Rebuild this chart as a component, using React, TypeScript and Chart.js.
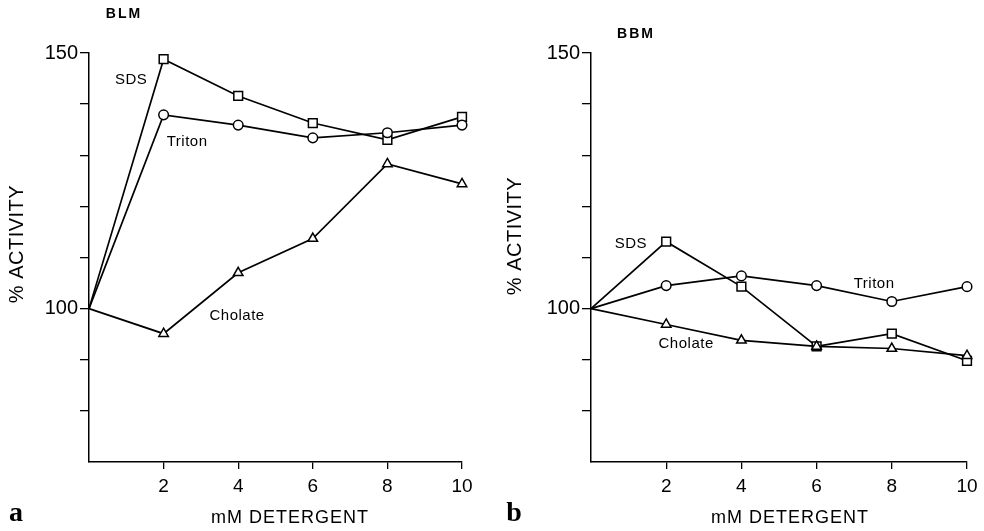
import React, { useEffect, useRef } from 'react';
import { Chart, registerables } from 'chart.js';

Chart.register(...registerables);

// ---- data ----
const xValues = [0, 2, 4, 6, 8, 10];
const blmSDS = [100, 148.8, 141.6, 136.3, 133.0, 137.5];
const blmTriton = [100, 137.9, 135.9, 133.4, 134.4, 135.9];
const blmCholate = [100, 95.1, 107.0, 113.7, 128.3, 124.4];
const bbmSDS = [100, 113.1, 104.3, 92.6, 95.1, 89.8];
const bbmTriton = [100, 104.5, 106.4, 104.5, 101.4, 104.3];
const bbmCholate = [100, 96.9, 93.8, 92.6, 92.2, 90.8];
const yLabeledTicks = [100, 150];
const yMin = 70;
const yMax = 150;
const xMin = 0;
const xMax = 10;

const FONT = '"Liberation Sans", Arial, Helvetica, sans-serif';

type Label = { text: string; x: number; y: number };
type PanelProps = {
  left: number;
  width: number;
  axisWidth: number;
  padRight: number;
  sds: number[];
  triton: number[];
  cholate: number[];
  seriesLabels: Label[];
  title: string;
  titlePos: [number, number];
  yTitlePos: [number, number];
  xTitlePos: [number, number];
  panelLetter: string;
  letterPos: [number, number];
};

const HEIGHT = 531;

function Panel(p: PanelProps) {
  const ref = useRef<HTMLCanvasElement>(null);
  useEffect(() => {
    if (!ref.current) return;
    const pts = (vals: number[]) => vals.map((v, i) => ({ x: xValues[i], y: v }));
    const radii = (r: number) => xValues.map((x) => (x === 0 ? 0 : r));
    const mk = (label: string, vals: number[], style: string, r: number) => ({
      label,
      data: pts(vals),
      borderColor: '#000',
      borderWidth: 1.7,
      backgroundColor: '#fff',
      pointStyle: style,
      pointRadius: radii(r),
      pointBorderWidth: 1.5,
      pointBorderColor: '#000',
      pointBackgroundColor: '#fff',
      tension: 0,
      fill: false,
      clip: false,
    });
    const textPlugin = {
      id: 'panelText',
      afterDraw(chart: any) {
        const ctx = chart.ctx as CanvasRenderingContext2D;
        const xs = chart.scales.x;
        const ys = chart.scales.y;
        ctx.save();
        ctx.fillStyle = '#000';
        ctx.textAlign = 'center';
        ctx.textBaseline = 'middle';
        ctx.font = `15px ${FONT}`;
        (ctx as any).letterSpacing = '0.5px';
        for (const l of p.seriesLabels) {
          ctx.fillText(l.text, xs.getPixelForValue(l.x), ys.getPixelForValue(l.y));
        }
        ctx.font = `bold 14px ${FONT}`;
        (ctx as any).letterSpacing = '2px';
        ctx.fillText(p.title, p.titlePos[0], p.titlePos[1]);
        ctx.font = `18px ${FONT}`;
        (ctx as any).letterSpacing = '1px';
        ctx.fillText('mM DETERGENT', p.xTitlePos[0], p.xTitlePos[1]);
        ctx.save();
        ctx.translate(p.yTitlePos[0], p.yTitlePos[1]);
        ctx.rotate(-Math.PI / 2);
        ctx.font = `20px ${FONT}`;
        (ctx as any).letterSpacing = '0.5px';
        ctx.fillText('% ACTIVITY', 0, 0);
        ctx.restore();
        (ctx as any).letterSpacing = '0px';
        ctx.font = `bold 28px "Liberation Serif", "Times New Roman", serif`;
        ctx.fillText(p.panelLetter, p.letterPos[0], p.letterPos[1]);
        ctx.restore();
      },
    };
    const chart = new Chart(ref.current, {
      type: 'line',
      data: {
        datasets: [
          mk('Cholate', p.cholate, 'triangle', 5.5),
          mk('Triton', p.triton, 'circle', 4.8),
          mk('SDS', p.sds, 'rect', 6.2),
        ] as any,
      },
      options: {
        animation: false,
        responsive: false,
        maintainAspectRatio: false,
        layout: { padding: { top: 53, right: p.padRight, left: 0, bottom: 0 } },
        plugins: {
          legend: { display: false },
          tooltip: { enabled: false },
        },
        scales: {
          x: {
            type: 'linear',
            min: xMin,
            max: xMax,
            afterFit: (s: any) => {
              s.height = HEIGHT - 462;
            },
            ticks: {
              stepSize: 2,
              color: '#000',
              padding: 6,
              font: { family: FONT, size: 19 },
              callback: (v: any) => (v === 0 ? '' : String(v)),
            },
            grid: {
              drawOnChartArea: false,
              drawTicks: true,
              tickLength: 7,
              lineWidth: 1.3,
              color: (c: any) => (c.tick && c.tick.value === 0 ? 'rgba(0,0,0,0)' : '#000'),
            },
            border: { display: true, color: '#000', width: 1.5 },
          },
          y: {
            type: 'linear',
            min: yMin,
            max: yMax,
            afterFit: (s: any) => {
              s.width = p.axisWidth;
            },
            ticks: {
              stepSize: 10,
              autoSkip: false,
              color: '#000',
              padding: 2,
              font: { family: FONT, size: 20 },
              callback: (v: any) => (yLabeledTicks.includes(v) ? String(v) : ''),
            },
            grid: {
              drawOnChartArea: false,
              drawTicks: true,
              tickLength: 9,
              lineWidth: 1.3,
              color: (c: any) => (c.tick && c.tick.value === yMin ? 'rgba(0,0,0,0)' : '#000'),
            },
            border: { display: true, color: '#000', width: 1.5 },
          },
        },
      } as any,
      plugins: [textPlugin],
    });
    return () => chart.destroy();
  }, []);
  return (
    <canvas
      ref={ref}
      width={p.width}
      height={HEIGHT}
      style={{ position: 'absolute', left: p.left, top: 0, width: p.width, height: HEIGHT }}
    />
  );
}

export default function App() {
  return (
    <div
      style={{
        position: 'fixed',
        left: 0,
        top: 0,
        width: 984,
        height: HEIGHT,
        background: '#fff',
        overflow: 'hidden',
      }}
    >
      <Panel
        left={0}
        width={480}
        axisWidth={89}
        padRight={18}
        sds={blmSDS}
        triton={blmTriton}
        cholate={blmCholate}
        seriesLabels={[
          { text: 'SDS', x: 1.13, y: 144.7 },
          { text: 'Triton', x: 2.63, y: 132.6 },
          { text: 'Cholate', x: 3.97, y: 98.6 },
        ]}
        title="BLM"
        titlePos={[124, 14]}
        yTitlePos={[17, 244]}
        xTitlePos={[290, 518]}
        panelLetter="a"
        letterPos={[16, 514]}
      />
      <Panel
        left={480}
        width={504}
        axisWidth={111}
        padRight={17}
        sds={bbmSDS}
        triton={bbmTriton}
        cholate={bbmCholate}
        seriesLabels={[
          { text: 'SDS', x: 1.06, y: 112.7 },
          { text: 'Triton', x: 7.53, y: 104.9 },
          { text: 'Cholate', x: 2.53, y: 93.2 },
        ]}
        title="BBM"
        titlePos={[156, 34]}
        yTitlePos={[35, 236]}
        xTitlePos={[310, 518]}
        panelLetter="b"
        letterPos={[34, 514]}
      />
    </div>
  );
}
